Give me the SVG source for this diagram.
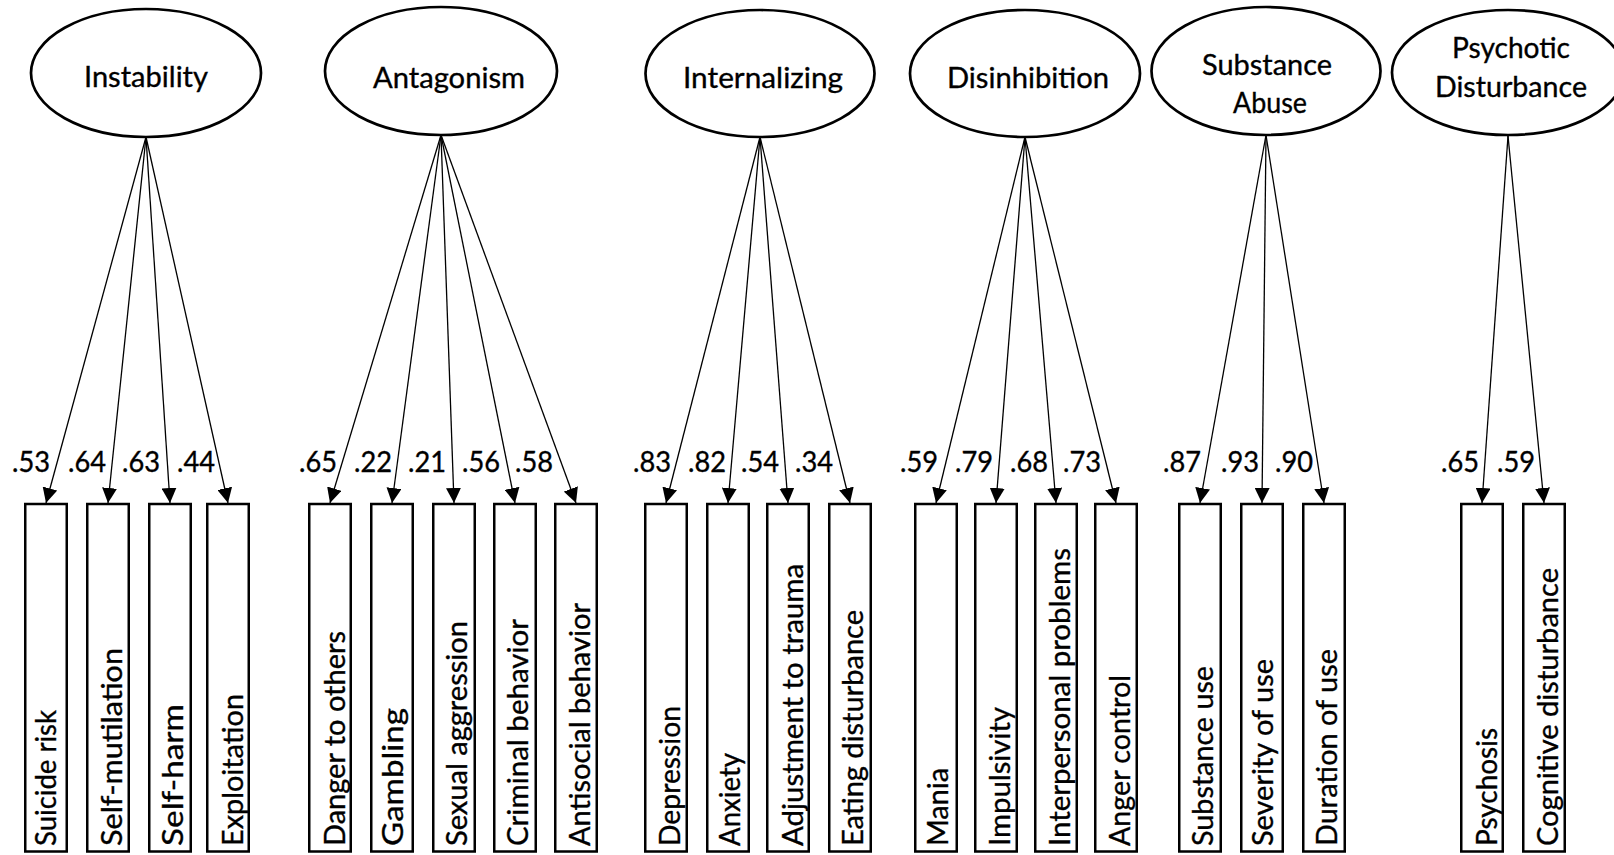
<svg xmlns="http://www.w3.org/2000/svg" width="1614" height="855" viewBox="0 0 1614 855">
<style>
.bg{fill:#ffffff}
.lat{fill:#ffffff;stroke:#000;stroke-width:2.7}
.box{fill:#ffffff;stroke:#000;stroke-width:2.5}
.t{font-family:Lato,"Liberation Sans",sans-serif;font-size:28.5px;fill:#000;stroke:#000;stroke-width:0.35px;text-anchor:middle}
.v{font-family:Lato,"Liberation Sans",sans-serif;font-size:28.5px;fill:#000;stroke:#000;stroke-width:0.35px}
.n{font-family:Lato,"Liberation Sans",sans-serif;font-size:28px;fill:#000;stroke:#000;stroke-width:0.35px}
#conn line{stroke:#000;stroke-width:1.3;fill:none;marker-end:url(#ah)}
</style>
<defs>
<marker id="ah" markerUnits="userSpaceOnUse" markerWidth="15" markerHeight="15" viewBox="0 0 15 15" refX="15" refY="7.5" orient="auto">
<path d="M0,0 L15,7.5 L0,15 z" fill="#000"/>
</marker>
</defs>
<rect class="bg" x="0" y="0" width="1614" height="855"/>

<g id="conn">
<line x1="146" y1="137" x2="46" y2="503"/>
<line x1="146" y1="137" x2="108" y2="503"/>
<line x1="146" y1="137" x2="170" y2="503"/>
<line x1="146" y1="137" x2="228" y2="503"/>
<line x1="441" y1="135" x2="330" y2="503"/>
<line x1="441" y1="135" x2="392" y2="503"/>
<line x1="441" y1="135" x2="454" y2="503"/>
<line x1="441" y1="135" x2="515" y2="503"/>
<line x1="441" y1="135" x2="576" y2="503"/>
<line x1="760" y1="137" x2="666" y2="503"/>
<line x1="760" y1="137" x2="728" y2="503"/>
<line x1="760" y1="137" x2="788" y2="503"/>
<line x1="760" y1="137" x2="850" y2="503"/>
<line x1="1025" y1="137" x2="936" y2="503"/>
<line x1="1025" y1="137" x2="996" y2="503"/>
<line x1="1025" y1="137" x2="1056" y2="503"/>
<line x1="1025" y1="137" x2="1116" y2="503"/>
<line x1="1266" y1="135" x2="1200" y2="503"/>
<line x1="1266" y1="135" x2="1262" y2="503"/>
<line x1="1266" y1="135" x2="1324" y2="503"/>
<line x1="1508" y1="136" x2="1482" y2="503"/>
<line x1="1508" y1="136" x2="1544" y2="503"/>
</g>

<g id="loadings">
<text class="n" x="12" y="472" textLength="38" lengthAdjust="spacingAndGlyphs">.53</text>
<text class="n" x="68" y="472" textLength="38" lengthAdjust="spacingAndGlyphs">.64</text>
<text class="n" x="122" y="472" textLength="38" lengthAdjust="spacingAndGlyphs">.63</text>
<text class="n" x="177" y="472" textLength="38" lengthAdjust="spacingAndGlyphs">.44</text>
<text class="n" x="299" y="472" textLength="38" lengthAdjust="spacingAndGlyphs">.65</text>
<text class="n" x="354" y="472" textLength="38" lengthAdjust="spacingAndGlyphs">.22</text>
<text class="n" x="408" y="472" textLength="38" lengthAdjust="spacingAndGlyphs">.21</text>
<text class="n" x="462" y="472" textLength="38" lengthAdjust="spacingAndGlyphs">.56</text>
<text class="n" x="515" y="472" textLength="38" lengthAdjust="spacingAndGlyphs">.58</text>
<text class="n" x="633" y="472" textLength="38" lengthAdjust="spacingAndGlyphs">.83</text>
<text class="n" x="688" y="472" textLength="38" lengthAdjust="spacingAndGlyphs">.82</text>
<text class="n" x="741" y="472" textLength="38" lengthAdjust="spacingAndGlyphs">.54</text>
<text class="n" x="795" y="472" textLength="38" lengthAdjust="spacingAndGlyphs">.34</text>
<text class="n" x="900" y="472" textLength="38" lengthAdjust="spacingAndGlyphs">.59</text>
<text class="n" x="955" y="472" textLength="38" lengthAdjust="spacingAndGlyphs">.79</text>
<text class="n" x="1010" y="472" textLength="38" lengthAdjust="spacingAndGlyphs">.68</text>
<text class="n" x="1063" y="472" textLength="38" lengthAdjust="spacingAndGlyphs">.73</text>
<text class="n" x="1163" y="472" textLength="38" lengthAdjust="spacingAndGlyphs">.87</text>
<text class="n" x="1221" y="472" textLength="38" lengthAdjust="spacingAndGlyphs">.93</text>
<text class="n" x="1275" y="472" textLength="38" lengthAdjust="spacingAndGlyphs">.90</text>
<text class="n" x="1441" y="472" textLength="38" lengthAdjust="spacingAndGlyphs">.65</text>
<text class="n" x="1497" y="472" textLength="38" lengthAdjust="spacingAndGlyphs">.59</text>
</g>

<g id="instability"><ellipse class="lat" cx="146" cy="73" rx="115" ry="64"/><text class="t" x="146" y="87" textLength="124" lengthAdjust="spacingAndGlyphs">Instability</text></g>
<g id="antagonism"><ellipse class="lat" cx="441" cy="71" rx="116" ry="64"/><text class="t" x="449" y="88" textLength="152" lengthAdjust="spacingAndGlyphs">Antagonism</text></g>
<g id="internalizing"><ellipse class="lat" cx="760" cy="73.5" rx="114.5" ry="63.5"/><text class="t" x="763" y="88" textLength="160" lengthAdjust="spacingAndGlyphs">Internalizing</text></g>
<g id="disinhibition"><ellipse class="lat" cx="1025" cy="73.5" rx="115" ry="63.5"/><text class="t" x="1028" y="88" textLength="162" lengthAdjust="spacingAndGlyphs">Disinhibition</text></g>
<g id="substance-abuse"><ellipse class="lat" cx="1266" cy="71" rx="114.5" ry="64"/><text class="t" x="1267" y="75" textLength="130" lengthAdjust="spacingAndGlyphs">Substance</text><text class="t" x="1270" y="113" textLength="74" lengthAdjust="spacingAndGlyphs">Abuse</text></g>
<g id="psychotic-disturbance"><ellipse class="lat" cx="1508" cy="72.5" rx="116" ry="62.5"/><text class="t" x="1511" y="58" textLength="118" lengthAdjust="spacingAndGlyphs">Psychotic</text><text class="t" x="1511" y="97" textLength="152" lengthAdjust="spacingAndGlyphs">Disturbance</text></g>

<g id="suicide-risk"><rect class="box" x="25.25" y="504" width="41.5" height="347.5"/><text class="v" transform="translate(56,846) rotate(-90)" textLength="136" lengthAdjust="spacingAndGlyphs">Suicide risk</text></g>
<g id="self-mutilation"><rect class="box" x="87.25" y="504" width="41.5" height="347.5"/><text class="v" transform="translate(122,846) rotate(-90)" textLength="198" lengthAdjust="spacingAndGlyphs">Self-mutilation</text></g>
<g id="self-harm"><rect class="box" x="149.25" y="504" width="41.5" height="347.5"/><text class="v" transform="translate(183,846) rotate(-90)" textLength="142" lengthAdjust="spacingAndGlyphs">Self-harm</text></g>
<g id="exploitation"><rect class="box" x="207.25" y="504" width="41.5" height="347.5"/><text class="v" transform="translate(243,846) rotate(-90)" textLength="152" lengthAdjust="spacingAndGlyphs">Exploitation</text></g>
<g id="danger-to-others"><rect class="box" x="309.25" y="504" width="41.5" height="347.5"/><text class="v" transform="translate(345,846) rotate(-90)" textLength="215" lengthAdjust="spacingAndGlyphs">Danger to others</text></g>
<g id="gambling"><rect class="box" x="371.25" y="504" width="41.5" height="347.5"/><text class="v" transform="translate(403,846) rotate(-90)" textLength="138" lengthAdjust="spacingAndGlyphs">Gambling</text></g>
<g id="sexual-aggression"><rect class="box" x="433.25" y="504" width="41.5" height="347.5"/><text class="v" transform="translate(467,846) rotate(-90)" textLength="225" lengthAdjust="spacingAndGlyphs">Sexual aggression</text></g>
<g id="criminal-behavior"><rect class="box" x="494.25" y="504" width="41.5" height="347.5"/><text class="v" transform="translate(528,846) rotate(-90)" textLength="227" lengthAdjust="spacingAndGlyphs">Criminal behavior</text></g>
<g id="antisocial-behavior"><rect class="box" x="555.25" y="504" width="41.5" height="347.5"/><text class="v" transform="translate(590,846) rotate(-90)" textLength="243" lengthAdjust="spacingAndGlyphs">Antisocial behavior</text></g>
<g id="depression"><rect class="box" x="645.25" y="504" width="41.5" height="347.5"/><text class="v" transform="translate(680,846) rotate(-90)" textLength="140" lengthAdjust="spacingAndGlyphs">Depression</text></g>
<g id="anxiety"><rect class="box" x="707.25" y="504" width="41.5" height="347.5"/><text class="v" transform="translate(740,846) rotate(-90)" textLength="93" lengthAdjust="spacingAndGlyphs">Anxiety</text></g>
<g id="adjustment-to-trauma"><rect class="box" x="767.25" y="504" width="41.5" height="347.5"/><text class="v" transform="translate(803,846) rotate(-90)" textLength="282" lengthAdjust="spacingAndGlyphs">Adjustment to trauma</text></g>
<g id="eating-disturbance"><rect class="box" x="829.25" y="504" width="41.5" height="347.5"/><text class="v" transform="translate(863,846) rotate(-90)" textLength="236" lengthAdjust="spacingAndGlyphs">Eating disturbance</text></g>
<g id="mania"><rect class="box" x="915.25" y="504" width="41.5" height="347.5"/><text class="v" transform="translate(948,846) rotate(-90)" textLength="78" lengthAdjust="spacingAndGlyphs">Mania</text></g>
<g id="impulsivity"><rect class="box" x="975.25" y="504" width="41.5" height="347.5"/><text class="v" transform="translate(1010,846) rotate(-90)" textLength="139" lengthAdjust="spacingAndGlyphs">Impulsivity</text></g>
<g id="interpersonal-problems"><rect class="box" x="1035.25" y="504" width="41.5" height="347.5"/><text class="v" transform="translate(1070,846) rotate(-90)" textLength="298" lengthAdjust="spacingAndGlyphs">Interpersonal problems</text></g>
<g id="anger-control"><rect class="box" x="1095.25" y="504" width="41.5" height="347.5"/><text class="v" transform="translate(1130,846) rotate(-90)" textLength="171" lengthAdjust="spacingAndGlyphs">Anger control</text></g>
<g id="substance-use"><rect class="box" x="1179.25" y="504" width="41.5" height="347.5"/><text class="v" transform="translate(1213,846) rotate(-90)" textLength="180" lengthAdjust="spacingAndGlyphs">Substance use</text></g>
<g id="severity-of-use"><rect class="box" x="1241.25" y="504" width="41.5" height="347.5"/><text class="v" transform="translate(1273,846) rotate(-90)" textLength="187" lengthAdjust="spacingAndGlyphs">Severity of use</text></g>
<g id="duration-of-use"><rect class="box" x="1303.25" y="504" width="41.5" height="347.5"/><text class="v" transform="translate(1337,846) rotate(-90)" textLength="197" lengthAdjust="spacingAndGlyphs">Duration of use</text></g>
<g id="psychosis"><rect class="box" x="1461.25" y="504" width="41.5" height="347.5"/><text class="v" transform="translate(1497,846) rotate(-90)" textLength="118" lengthAdjust="spacingAndGlyphs">Psychosis</text></g>
<g id="cognitive-disturbance"><rect class="box" x="1523.25" y="504" width="41.5" height="347.5"/><text class="v" transform="translate(1558,846) rotate(-90)" textLength="278" lengthAdjust="spacingAndGlyphs">Cognitive disturbance</text></g>
</svg>
